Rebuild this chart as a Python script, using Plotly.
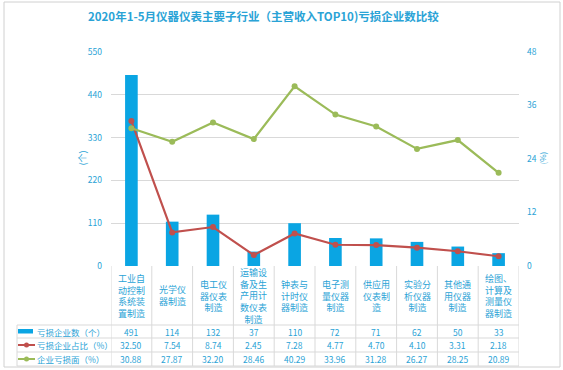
import plotly.graph_objects as go

categories = ["工业自动控制系统装置制造", "光学仪器制造", "电工仪器仪表制造",
              "运输设备及生产用计数仪表制造", "钟表与计时仪器制造", "电子测量仪器制造",
              "供应用仪表制造", "实验分析仪器制造", "其他通用仪器制造", "绘图、计算及测量仪器制造"]
category_labels = ["工业自<br>动控制<br>系统装<br>置制造", "光学仪<br>器制造", "电工仪<br>器仪表<br>制造",
                   "运输设<br>备及生<br>产用计<br>数仪表<br>制造", "钟表与<br>计时仪<br>器制造",
                   "电子测<br>量仪器<br>制造", "供应用<br>仪表制<br>造", "实验分<br>析仪器<br>制造",
                   "其他通<br>用仪器<br>制造", "绘图、<br>计算及<br>测量仪<br>器制造"]
loss_count = [491, 114, 132, 37, 110, 72, 71, 62, 50, 33]
loss_share = [32.50, 7.54, 8.74, 2.45, 7.28, 4.77, 4.70, 4.10, 3.31, 2.18]
loss_ratio = [30.88, 27.87, 32.20, 28.46, 40.29, 33.96, 31.28, 26.27, 28.25, 20.89]
series_names = ["亏损企业数（个）", "亏损企业占比（%）", "企业亏损面（%）"]
title = "2020年1-5月仪器仪表主要子行业（主营收入TOP10)亏损企业数比较"
left_ticks = [0, 110, 220, 330, 440, 550]
right_ticks = [0, 12, 24, 36, 48]

W_FIG, H_FIG = 563, 370
L, R, T, B = 111, 519, 52, 266
PW, PH = R - L, B - T


def px(x):
    return (x - L) / PW


def py(y):
    return (B - y) / PH


FONT = "Noto Sans CJK SC, Microsoft YaHei, sans-serif"
TXT = "#2aa3d6"
BLUE = "#0aa5e3"
RED = "#c0504d"
GREEN = "#9bbb59"
GRID = "#d9d9d9"

fig = go.Figure()
fig.add_trace(go.Bar(x=categories, y=loss_count, name=series_names[0],
                     marker=dict(color=BLUE, line=dict(width=0)), width=0.31))
fig.add_trace(go.Scatter(x=categories, y=loss_share, name=series_names[1], yaxis="y2",
                         mode="lines+markers", line=dict(color=RED, width=2.2),
                         marker=dict(color=RED, size=6)))
fig.add_trace(go.Scatter(x=categories, y=loss_ratio, name=series_names[2], yaxis="y2",
                         mode="lines+markers", line=dict(color=GREEN, width=2.2),
                         marker=dict(color=GREEN, size=6)))

shapes = []
annotations = []

# outer frame
shapes.append(dict(type="rect", xref="paper", yref="paper", x0=px(4), x1=px(560), y0=py(2), y1=py(367),
                   line=dict(color="#d0d0d0", width=1), layer="below"))

# table grid
line_style = dict(color=GRID, width=1)
for i in range(len(categories) + 1):
    shapes.append(dict(type="line", xref="x", yref="paper", x0=i - 0.5, x1=i - 0.5,
                       y0=py(266), y1=py(366), line=line_style))
shapes.append(dict(type="line", xref="paper", yref="paper", x0=px(17), x1=px(17),
                   y0=py(325), y1=py(366), line=line_style))
for yy in [325, 338, 352, 366]:
    shapes.append(dict(type="line", xref="paper", yref="paper", x0=px(17), x1=px(519),
                       y0=py(yy), y1=py(yy), line=line_style))

# header labels
for i, lab in enumerate(category_labels):
    annotations.append(dict(x=i, y=py(295.5), xref="x", yref="paper", text=lab, showarrow=False,
                            font=dict(size=9, color=TXT, family=FONT), align="center",
                            xanchor="center", yanchor="middle"))

rows = [(loss_count, "{:d}", 331.5), (loss_share, "{:.2f}", 345), (loss_ratio, "{:.2f}", 359)]
for vals, fmt, yy in rows:
    for i, v in enumerate(vals):
        annotations.append(dict(x=i, y=py(yy), xref="x", yref="paper", text=fmt.format(v),
                                showarrow=False, font=dict(size=8.5, color=TXT, family=FONT),
                                xanchor="center", yanchor="middle"))

# legend keys and row labels
shapes.append(dict(type="rect", xref="paper", yref="paper", x0=px(18), x1=px(33),
                   y0=py(333.5), y1=py(329), fillcolor=BLUE, line=dict(width=0)))
for color, yy in [(RED, 345), (GREEN, 359)]:
    shapes.append(dict(type="line", xref="paper", yref="paper", x0=px(18), x1=px(35),
                       y0=py(yy), y1=py(yy), line=dict(color=color, width=2)))
    shapes.append(dict(type="circle", xref="paper", yref="paper", x0=px(24), x1=px(29),
                       y0=py(yy + 2.5), y1=py(yy - 2.5), fillcolor=color, line=dict(width=0)))
for name, yy in zip(series_names, [331.5, 345, 359]):
    annotations.append(dict(x=px(35), y=py(yy), xref="paper", yref="paper", text=name,
                            showarrow=False, font=dict(size=8.5, color=TXT, family=FONT),
                            xanchor="left", yanchor="middle"))

# axis titles
annotations.append(dict(x=px(73), y=py(158), xref="paper", yref="paper", text="(个)", textangle=-90,
                        showarrow=False, font=dict(size=9, color=TXT, family=FONT)))
annotations.append(dict(x=px(549), y=py(158), xref="paper", yref="paper", text="(%)", textangle=-90,
                        showarrow=False, font=dict(size=8, color=TXT, family=FONT)))

# title
annotations.append(dict(x=px(263), y=py(16), xref="paper", yref="paper", text="<b>" + title + "</b>",
                        showarrow=False, font=dict(size=11.5, color=TXT, family=FONT),
                        xanchor="center", yanchor="middle"))

fig.update_layout(
    width=W_FIG, height=H_FIG,
    margin=dict(l=L, r=W_FIG - R, t=T, b=H_FIG - B, pad=0),
    paper_bgcolor="white", plot_bgcolor="white",
    showlegend=False,
    font=dict(family=FONT, color=TXT),
    xaxis=dict(type="category", range=[-0.5, len(categories) - 0.5], showticklabels=False,
               showgrid=False, zeroline=False, showline=False, ticks=""),
    yaxis=dict(range=[0, 550], tickvals=left_ticks, showgrid=True, gridcolor=GRID, gridwidth=1,
               zeroline=False, showline=False, tickfont=dict(size=8.5, color=TXT), ticklabelstandoff=8),
    yaxis2=dict(range=[0, 48], tickvals=right_ticks, overlaying="y", side="right", showgrid=False,
                zeroline=False, showline=False, tickfont=dict(size=8.5, color=TXT), ticklabelstandoff=7),
    shapes=shapes,
    annotations=annotations,
)

fig.write_html("out.html", config={"displayModeBar": False},
               post_script="document.body.style.margin='0px';document.body.style.overflow='hidden';")
